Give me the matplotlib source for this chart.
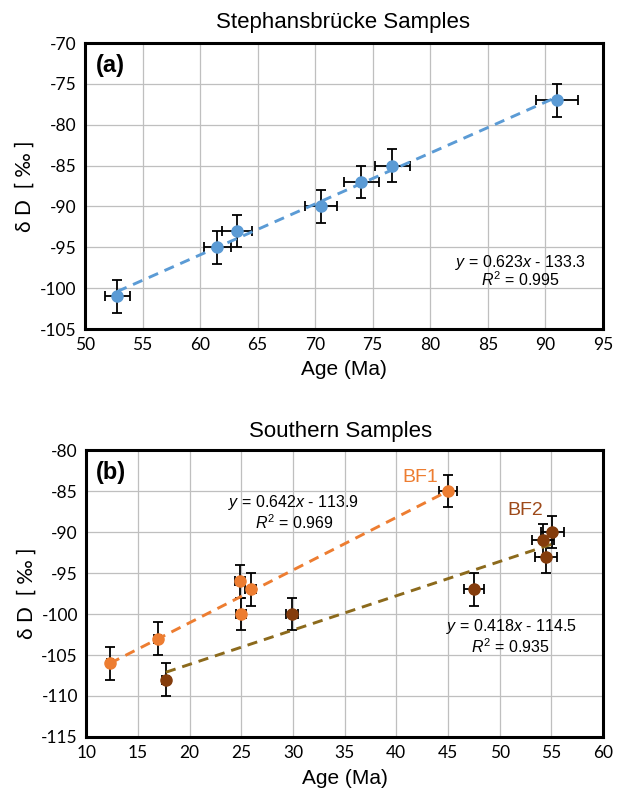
import numpy as np
import matplotlib
matplotlib.use('Agg')
import matplotlib.pyplot as plt

# Fonts: Arial-like for titles/labels, Calibri-like for ticks
plt.rcParams['font.family'] = ['Liberation Sans', 'DejaVu Sans']
plt.rcParams['mathtext.fontset'] = 'custom'
plt.rcParams['mathtext.rm'] = 'Liberation Sans'
plt.rcParams['mathtext.it'] = 'Liberation Sans:italic'
plt.rcParams['axes.unicode_minus'] = False
tick_font = ['Lato', 'DejaVu Sans']

# (a) Stephansbruecke samples
age_a = [52.8, 61.5, 63.2, 70.5, 74.0, 76.7, 91.0]
dD_a = [-101, -95, -93, -90, -87, -85, -77]
age_err_a = [1.1, 1.2, 1.3, 1.4, 1.5, 1.5, 1.8]
dD_err_a = [2, 2, 2, 2, 2, 2, 2]
fit_a = (0.623, -133.3)
r2_a = 0.995

# (b) Southern samples, BF1
age_bf1 = [12.3, 16.9, 24.9, 25.0, 25.9, 45.0]
dD_bf1 = [-106, -103, -96, -100, -97, -85]
age_err_bf1 = [0.25, 0.35, 0.5, 0.5, 0.5, 0.9]
dD_err_bf1 = [2, 2, 2, 2, 2, 2]
fit_bf1 = (0.642, -113.9)
r2_bf1 = 0.969

# (b) Southern samples, BF2
age_bf2 = [17.7, 29.9, 47.5, 54.2, 55.1, 54.5]
dD_bf2 = [-108, -100, -97, -91, -90, -93]
age_err_bf2 = [0.35, 0.6, 0.95, 1.1, 1.1, 1.1]
dD_err_bf2 = [2, 2, 2, 2, 2, 2]
fit_bf2 = (0.418, -114.5)
r2_bf2 = 0.935

blue = '#5B9BD5'
orange = '#ED7D31'
brown = '#843C0C'
olive = '#8C6A1C'


def style_axes(ax, xlim, ylim):
  ax.set_xlim(*xlim)
  ax.set_ylim(*ylim)
  ax.set_xticks(np.arange(xlim[0], xlim[1] + 1, 5))
  ax.set_yticks(np.arange(ylim[0], ylim[1] + 1, 5))
  ax.grid(True, color='#BFBFBF', lw=0.9)
  ax.set_axisbelow(True)
  ax.tick_params(length=0, pad=6, labelsize=12.5)
  for lab in ax.get_xticklabels() + ax.get_yticklabels():
    lab.set_family(tick_font)
  for sp in ax.spines.values():
    sp.set_linewidth(2.2)
    sp.set_color('black')
  ax.set_xlabel('Age (Ma)', fontsize=15)
  ax.xaxis.set_label_coords(0.5, -0.143)
  ax.xaxis.label.set_va('center')
  ax.set_ylabel('δ D  [ ‰ ]', fontsize=15, family=tick_font)
  ax.yaxis.set_label_coords(-0.116, 0.5)
  ax.yaxis.label.set_va('center')


def plot_series(ax, x, y, xe, ye, color, fit, line_color):
  x = np.array(x)
  xx = np.array([x.min(), x.max()])
  ax.plot(xx, fit[0] * xx + fit[1], color=line_color, lw=2.1,
          dashes=(3.5, 2.4), zorder=3)
  ax.errorbar(x, y, xerr=xe, yerr=ye, fmt='none', ecolor='black',
              elinewidth=1.3, capsize=3.5, capthick=1.3, zorder=2)
  ax.plot(x, y, 'o', color=color, ms=8, zorder=4)


fig = plt.figure(figsize=(6.3, 7.94), dpi=100)
ax_a = fig.add_axes([0.135, 0.5856, 0.822, 0.3602])
ax_b = fig.add_axes([0.137, 0.0718, 0.820, 0.3614])

# panel a
plot_series(ax_a, age_a, dD_a, age_err_a, dD_err_a, blue, fit_a, blue)
style_axes(ax_a, (50, 95), (-105, -70))
ax_a.text(50.9, -72.7, '(a)', fontsize=17, fontweight='bold', va='center', ha='left')
ax_a.text(87.8, -96.8, r'$y$ = %.3f$x$ - %.1f' % (fit_a[0], -fit_a[1]),
          fontsize=11.5, ha='center', va='center')
ax_a.text(87.8, -99.0, r'$R^2$ = %.3f' % r2_a, fontsize=11.5, ha='center', va='center')
fig.text(0.545, 0.972, 'Stephansbrücke Samples', fontsize=16, ha='center', va='center')

# panel b
plot_series(ax_b, age_bf1, dD_bf1, age_err_bf1, dD_err_bf1, orange, fit_bf1, orange)
plot_series(ax_b, age_bf2, dD_bf2, age_err_bf2, dD_err_bf2, brown, fit_bf2, olive)
style_axes(ax_b, (10, 60), (-115, -80))
ax_b.text(10.9, -82.8, '(b)', fontsize=17, fontweight='bold', va='center', ha='left')
ax_b.text(42.3, -83.3, 'BF1', fontsize=14, color=orange, ha='center', va='center')
ax_b.text(52.5, -87.4, 'BF2', fontsize=14, color='#9E4A1A', ha='center', va='center')
ax_b.text(30.0, -86.4, r'$y$ = %.3f$x$ - %.1f' % (fit_bf1[0], -fit_bf1[1]),
          fontsize=11.5, ha='center', va='center')
ax_b.text(30.1, -88.8, r'$R^2$ = %.3f' % r2_bf1, fontsize=11.5, ha='center', va='center')
ax_b.text(51.1, -101.5, r'$y$ = %.3f$x$ - %.1f' % (fit_bf2[0], -fit_bf2[1]),
          fontsize=11.5, ha='center', va='center')
ax_b.text(51.1, -104.0, r'$R^2$ = %.3f' % r2_bf2, fontsize=11.5, ha='center', va='center')
fig.text(0.54, 0.456, 'Southern Samples', fontsize=16, ha='center', va='center')

fig.savefig('out.png', dpi=100)
